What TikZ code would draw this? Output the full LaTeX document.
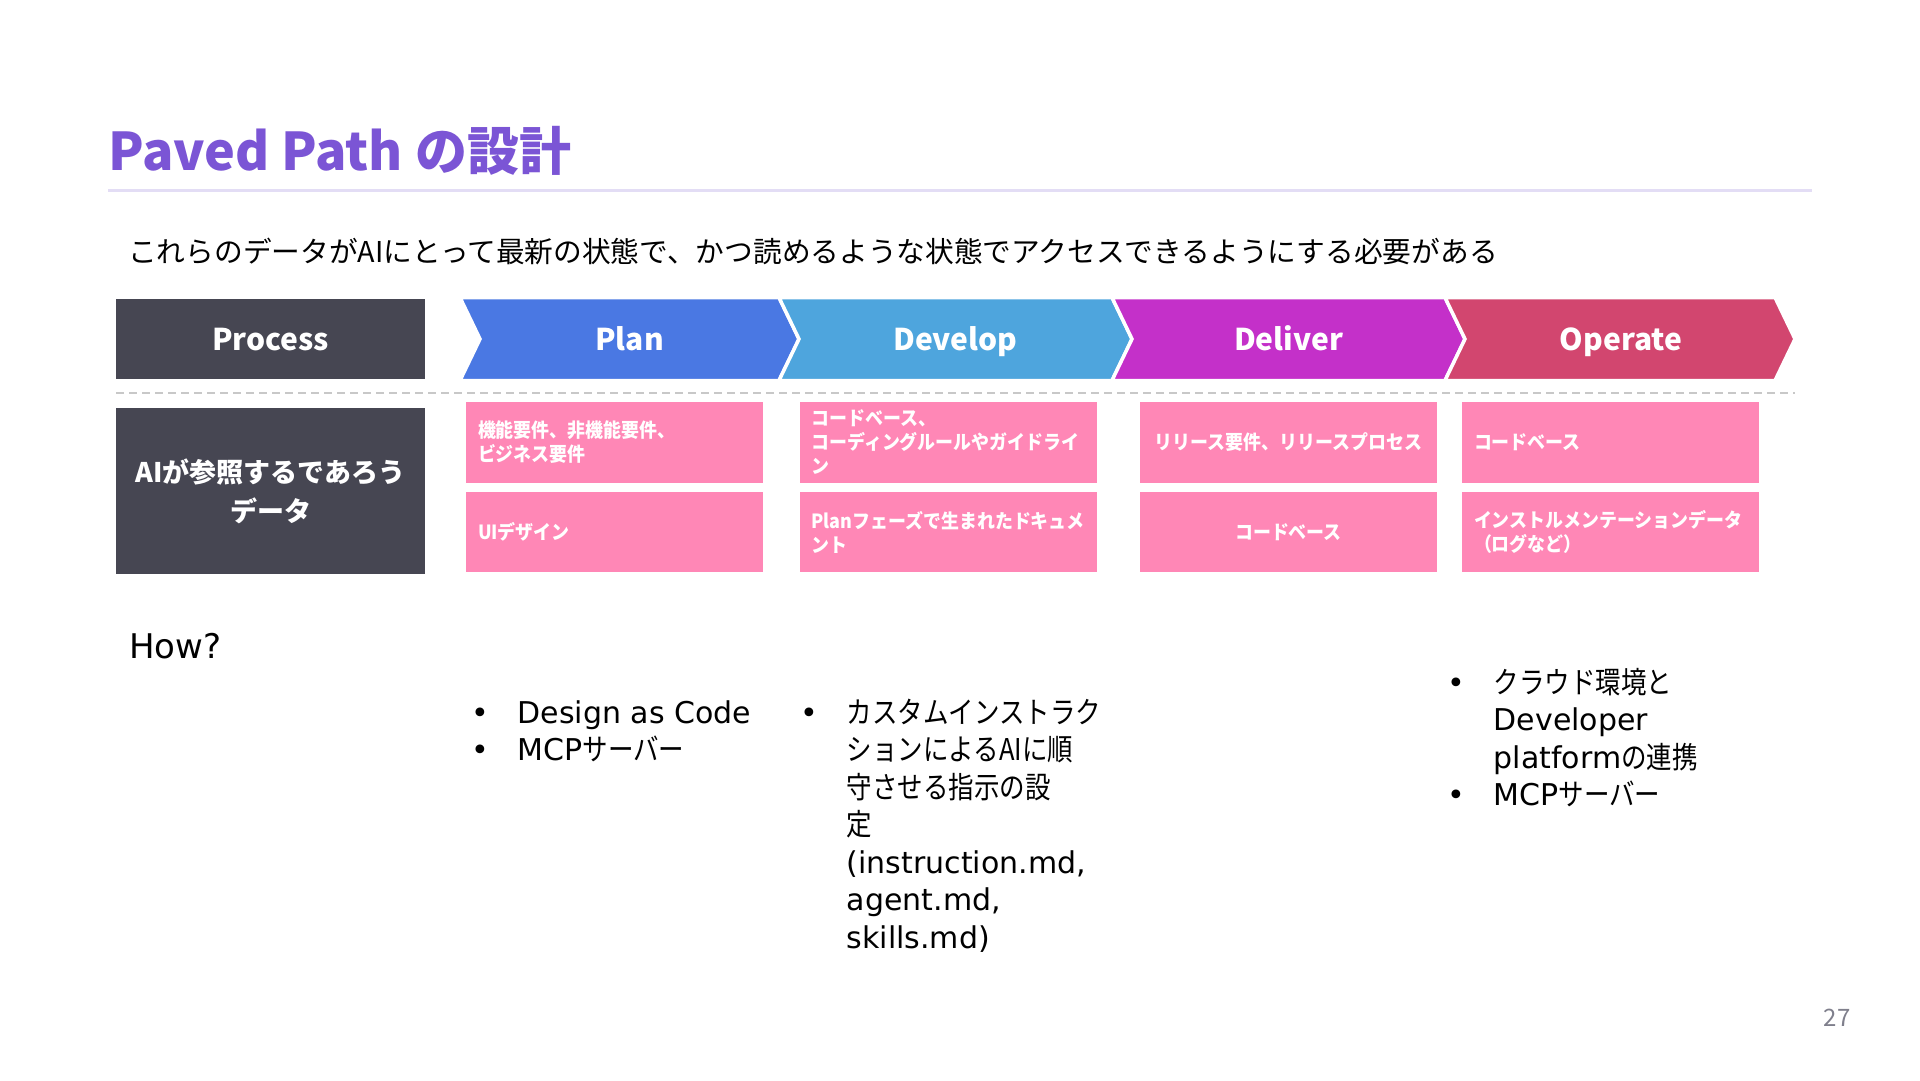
\documentclass[tikz,border=0pt]{standalone}
\usepackage{fontspec}
\setmainfont{DejaVu Sans}
\newfontfamily\jp{Noto Sans CJK JP}
\newfontfamily\jpn[FakeStretch=0.85]{Noto Sans CJK JP}
\newfontfamily\jpc[FakeStretch=0.92]{Noto Sans CJK JP}
\newcommand\jtxt[1]{{\jpn #1}}
\definecolor{titlepurple}{RGB}{123,85,213}
\definecolor{lavline}{RGB}{227,221,245}
\definecolor{darkbox}{RGB}{70,70,82}
\definecolor{planblue}{RGB}{74,120,227}
\definecolor{devblue}{RGB}{78,165,221}
\definecolor{delmag}{RGB}{196,48,201}
\definecolor{oprose}{RGB}{210,70,111}
\definecolor{cellpink}{RGB}{255,135,182}
\definecolor{dashgray}{RGB}{200,200,200}
\definecolor{pagegray}{RGB}{127,127,140}
\begin{document}
\begin{tikzpicture}[x=1pt,y=-1pt,
  hdrbox/.style={fill=darkbox, text=white, minimum width=309pt, inner sep=0pt, align=center},
  hdrfont/.style={font=\jp\bfseries\fontsize{30}{34}\selectfont},
  chev/.style={draw=white, line width=3.5pt, line join=miter},
  chevlabel/.style={text=white, inner sep=0pt, hdrfont},
  cell/.style={fill=cellpink, text=white, minimum width=297pt, inner xsep=12pt, inner ysep=0pt,
    text width=273pt, font=\jpc\bfseries\fontsize{19.5}{24}\selectfont},
  cellL/.style={cell, align=left},
  cellC/.style={cell, align=center},
  row1/.style={minimum height=81pt},
  row2/.style={minimum height=80pt},
  howlist/.style={anchor=base west, inner sep=0pt, font=\fontsize{30}{37.5}\selectfont}
]
\useasboundingbox (0,0) rectangle (1920,1080);
\fill[white] (0,0) rectangle (1920,1080);

% title
\node[anchor=base west, inner sep=0pt, text=titlepurple,
  font=\jp\bfseries\fontsize{52}{58}\selectfont] (title) at (108,170) {Paved Path の設計};
\draw[lavline, line width=3pt] (108,190) -- (1812,190);

% subtitle
\node[anchor=west, inner sep=0pt, font=\jp\fontsize{28.7}{34}\selectfont] (sub) at (128,251)
  {これらのデータがAIにとって最新の状態で、かつ読めるような状態でアクセスできるようにする必要がある};

% header row
\node[hdrbox, hdrfont, minimum height=80pt] (procbox) at (270.5,339) {};
\node[chevlabel, anchor=base] (proc) at (270.5,350) {Process};

\path[chev, fill=planblue] (460,297.5) -- (779,297.5) -- (799,339) -- (779,380.5) -- (460,380.5) -- (480,339) -- cycle;
\path[chev, fill=devblue] (779,297.5) -- (1112,297.5) -- (1132,339) -- (1112,380.5) -- (779,380.5) -- (799,339) -- cycle;
\path[chev, fill=delmag] (1112,297.5) -- (1445,297.5) -- (1465,339) -- (1445,380.5) -- (1112,380.5) -- (1132,339) -- cycle;
\path[chev, fill=oprose] (1445,297.5) -- (1775,297.5) -- (1795,339) -- (1775,380.5) -- (1445,380.5) -- (1465,339) -- cycle;
\node[chevlabel, anchor=base] (plan) at (629.5,350) {Plan};
\node[chevlabel, anchor=base] (develop) at (955.5,350) {Develop};
\node[chevlabel, anchor=base] (deliver) at (1288.5,350) {Deliver};
\node[chevlabel, anchor=base] (operate) at (1621,350) {Operate};

% dashed separator
\draw[dashgray, line width=2pt, dash pattern=on 8pt off 5pt] (116,393) -- (1795,393);

% data row
\node[hdrbox, minimum height=166pt, font=\jp\bfseries\fontsize{27}{39}\selectfont] (aibox) at (270.5,491)
  {AIが参照するであろう\\データ};

\node[cellL, row1] (p1) at (614.5,442.5) {機能要件、非機能要件、\\ビジネス要件};
\node[cellL, row2] (p2) at (614.5,532) {UIデザイン};
\node[cellL, row1] (d1) at (948,442.5) {コードベース、\\コーディングルールやガイドライ\\ン};
\node[cellL, row2] (d2) at (948,532) {Planフェーズで生まれたドキュメ\\ント};
\node[cellC, row1] (v1) at (1288.5,442.5) {リリース要件、リリースプロセス};
\node[cellC, row2] (v2) at (1288.5,532) {コードベース};
\node[cellL, row1] (o1) at (1610.5,442.5) {コードベース};
\node[cellL, row2] (o2) at (1610.5,532) {インストルメンテーションデータ\\（ログなど）};

% How?
\node[anchor=west, inner sep=0pt, font=\fontsize{34}{40}\selectfont] (how) at (129,646) {How?};

\node[howlist] (planhow) at (471.6,723) {\begin{tabular}[t]{@{}p{46pt}@{}l@{}}
•& Design as Code\\
•& MCP\jtxt{サーバー}
\end{tabular}};

\node[howlist] (devhow) at (800.6,723) {\begin{tabular}[t]{@{}p{46pt}@{}l@{}}
•& \jtxt{カスタムインストラク}\\
 & \jtxt{ションによるAIに順}\\
 & \jtxt{守させる指示の設}\\
 & \jtxt{定}\\
 & (instruction.md,\\
 & agent.md,\\
 & skills.md)
\end{tabular}};

\node[howlist] (ophow) at (1447.6,693) {\begin{tabular}[t]{@{}p{46pt}@{}l@{}}
•& \jtxt{クラウド環境と}\\
 & Developer\\
 & platform\jtxt{の連携}\\
•& MCP\jtxt{サーバー}
\end{tabular}};

% page number
\node[text=pagegray, inner sep=0pt, font=\jp\fontsize{24}{28}\selectfont] (pagenum) at (1837,1018) {27};
\end{tikzpicture}
\end{document}
